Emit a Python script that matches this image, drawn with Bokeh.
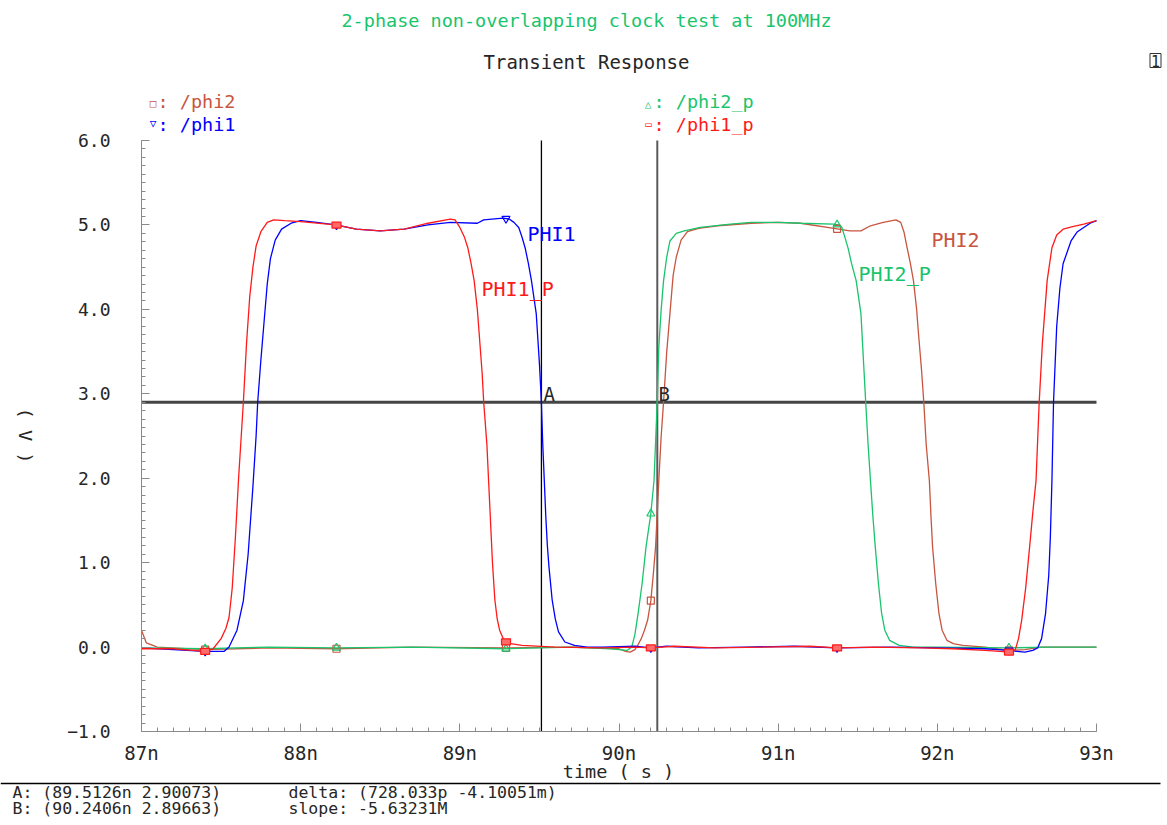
import math
import numpy as np
from bokeh.plotting import figure
from bokeh.models import Range1d, FixedTicker, Label, ColumnDataSource
from bokeh.embed import file_html
from bokeh.resources import INLINE

# ---- waveforms: time in ns, voltage in V ----
phi1_t = [87.00, 87.20, 87.40, 87.48, 87.52, 87.55, 87.60, 87.64, 87.67, 87.70, 87.72, 87.73,
          87.75, 87.77, 87.79, 87.81, 87.84, 87.88, 87.94, 88.00, 88.10, 88.22, 88.35, 88.50,
          88.65, 88.80, 88.94, 89.11, 89.15, 89.27, 89.31, 89.34, 89.37, 89.39, 89.41, 89.43,
          89.45, 89.48, 89.50, 89.5126, 89.52, 89.53, 89.54, 89.55, 89.56, 89.58, 89.60, 89.62,
          89.66, 89.72, 89.80, 89.90, 90.10, 90.20, 90.30, 90.50, 90.80, 91.10, 91.37, 91.70,
          92.00, 92.30, 92.45, 92.50, 92.55, 92.60, 92.63, 92.655, 92.68, 92.70, 92.71, 92.72,
          92.73, 92.75, 92.77, 92.79, 92.84, 92.88, 92.92, 92.96, 93.00]
phi1_v = [-0.01, -0.03, -0.05, -0.05, -0.05, 0.00, 0.20, 0.55, 1.10, 1.90, 2.50, 2.90,
          3.40, 3.85, 4.30, 4.60, 4.82, 4.95, 5.02, 5.05, 5.03, 5.00, 4.95, 4.93,
          4.95, 5.00, 5.03, 5.02, 5.06, 5.08, 5.07, 5.03, 4.97, 4.86, 4.73, 4.55,
          4.34, 3.95, 3.36, 2.90, 2.45, 2.00, 1.55, 1.20, 0.95, 0.56, 0.33, 0.18,
          0.06, 0.02, 0.00, 0.00, 0.01, -0.01, 0.01, -0.01, 0.00, 0.01, -0.01, 0.00,
          -0.01, -0.02, -0.04, -0.05, -0.06, -0.04, -0.01, 0.10, 0.40, 0.85, 1.30, 1.97,
          2.90, 3.80, 4.25, 4.54, 4.81, 4.92, 4.97, 5.02, 5.05]

phi1p_t = [87.00, 87.20, 87.40, 87.45, 87.50, 87.53, 87.55, 87.57, 87.59, 87.61, 87.63, 87.64,
           87.66, 87.68, 87.70, 87.72, 87.75, 87.79, 87.83, 87.90, 88.00, 88.22, 88.35, 88.50,
           88.65, 88.80, 88.94, 88.97, 89.00, 89.03, 89.05, 89.07, 89.09, 89.11, 89.12, 89.14,
           89.15, 89.17, 89.19, 89.205, 89.22, 89.235, 89.25, 89.28, 89.32, 89.39, 89.60, 89.90,
           90.10, 90.20, 90.35, 90.60, 90.90, 91.20, 91.37, 91.60, 91.90, 92.10, 92.30, 92.46,
           92.49, 92.51, 92.53, 92.555, 92.58, 92.60, 92.62, 92.64, 92.66, 92.69, 92.72, 92.75,
           92.79, 92.85, 92.92, 93.00]
phi1p_v = [-0.02, -0.02, -0.05, -0.02, 0.10, 0.22, 0.35, 0.70, 1.30, 2.00, 2.60, 2.90,
           3.60, 4.15, 4.50, 4.75, 4.92, 5.03, 5.06, 5.05, 5.04, 5.00, 4.95, 4.93,
           4.95, 5.02, 5.07, 5.06, 4.97, 4.85, 4.73, 4.55, 4.34, 4.00, 3.75, 3.25,
           2.90, 2.40, 1.60, 1.00, 0.56, 0.33, 0.20, 0.07, 0.04, 0.02, 0.00, -0.01,
           0.00, -0.01, 0.01, -0.01, 0.00, 0.01, -0.01, 0.00, -0.01, -0.02, -0.04, -0.06,
           -0.03, 0.10, 0.32, 0.70, 1.19, 1.60, 1.97, 2.90, 3.60, 4.34, 4.73, 4.88,
           4.95, 4.98, 5.01, 5.05]

phi2_t = [87.00, 87.03, 87.10, 87.40, 87.80, 88.22, 88.70, 89.29, 89.70, 90.00, 90.04, 90.07,
          90.10, 90.12, 90.14, 90.16, 90.18, 90.20, 90.215, 90.23, 90.25, 90.265, 90.28, 90.30,
          90.32, 90.34, 90.36, 90.39, 90.43, 90.50, 90.62, 90.83, 91.00, 91.14, 91.35, 91.45,
          91.52, 91.58, 91.66, 91.74, 91.77, 91.79, 91.81, 91.83, 91.85, 91.87, 91.88, 91.90,
          91.915, 91.93, 91.95, 91.96, 91.97, 91.99, 92.01, 92.03, 92.06, 92.10, 92.16, 92.30,
          92.45, 92.55, 92.65, 92.80, 93.00]
phi2_v = [0.20, 0.05, 0.00, -0.03, -0.01, -0.02, 0.00, -0.01, 0.00, -0.02, -0.05, -0.06,
          -0.03, 0.03, 0.10, 0.20, 0.32, 0.55, 0.85, 1.19, 1.97, 2.50, 2.90, 3.50,
          3.95, 4.40, 4.62, 4.82, 4.92, 4.96, 4.99, 5.02, 5.03, 5.02, 4.96, 4.93,
          4.93, 4.99, 5.03, 5.06, 5.03, 4.92, 4.73, 4.55, 4.34, 4.00, 3.75, 3.30,
          2.90, 2.40, 1.97, 1.55, 1.19, 0.75, 0.40, 0.20, 0.08, 0.04, 0.02, 0.00,
          -0.04, -0.03, 0.00, 0.00, 0.00]

phi2p_t = [87.00, 87.40, 87.80, 88.22, 88.70, 89.29, 89.70, 89.95, 90.05, 90.08, 90.10, 90.12,
           90.145, 90.17, 90.20, 90.22, 90.24, 90.25, 90.265, 90.28, 90.30, 90.32, 90.36, 90.41,
           90.51, 90.70, 90.83, 91.00, 91.14, 91.35, 91.38, 91.40, 91.42, 91.44, 91.46, 91.49,
           91.52, 91.53, 91.55, 91.565, 91.58, 91.595, 91.61, 91.63, 91.65, 91.67, 91.70, 91.76,
           91.85, 92.00, 92.45, 92.70, 93.00]
phi2p_v = [-0.01, -0.02, 0.00, -0.01, 0.00, -0.02, 0.00, -0.02, -0.04, 0.00, 0.15, 0.40,
           0.75, 1.19, 1.58, 1.97, 2.90, 3.55, 4.00, 4.34, 4.62, 4.81, 4.90, 4.93,
           4.97, 5.01, 5.03, 5.03, 5.02, 5.01, 5.00, 4.97, 4.85, 4.72, 4.55, 4.34,
           3.95, 3.60, 2.90, 2.40, 1.97, 1.55, 1.19, 0.75, 0.40, 0.20, 0.08, 0.02,
           0.00, 0.00, -0.01, 0.00, 0.00]

# sample instants where the viewer puts its trace symbols
marker_t = [87.40, 88.225, 89.29, 90.20, 91.37, 92.45]

# cursors and threshold
cursor_a = 89.5126
cursor_b = 90.2406
threshold = 2.9

xticks = [87, 88, 89, 90, 91, 92, 93]
xtick_labels = ["87n", "88n", "89n", "90n", "91n", "92n", "93n"]
yticks = [-1, 0, 1, 2, 3, 4, 5, 6]
ytick_labels = ["\u22121.0", "0.0", "1.0", "2.0", "3.0", "4.0", "5.0", "6.0"]

BROWN = "#c8553f"
BLUE = "#0000ff"
GREEN = "#19c46c"
RED = "#ff1a1a"
INK = "#262626"
AXIS = "#8a8a8a"
FONT = "DejaVu Sans Mono"

# canvas and plotting-box geometry in pixels
W, H = 1167, 825
LEFT, RIGHT, TOP, BOTTOM = 141, 1096, 140, 731
RULE_Y, RULE_END = 783, 1160
T0, T1, V0, V1 = 87.0, 93.0, -1.0, 6.0
px_ns = (RIGHT - LEFT) / (T1 - T0)
px_v = (BOTTOM - TOP) / (V1 - V0)
x_lo = T0 - LEFT / px_ns
y_hi = V1 + TOP / px_v

# the frame covers the whole canvas; axes sit at fixed data locations
p = figure(width=W, height=H, output_backend="svg", toolbar_location=None,
           x_range=Range1d(x_lo, T1 + (W - RIGHT) / px_ns),
           y_range=Range1d(V0 - (H - BOTTOM) / px_v, y_hi),
           min_border=0)
p.outline_line_color = None
p.grid.visible = False
p.background_fill_color = "white"
p.border_fill_color = "white"

xa, ya = p.xaxis[0], p.yaxis[0]
xa.fixed_location = V0
xa.bounds = (T0, T1)
ya.fixed_location = T0
ya.bounds = (V0, V1)

xa.ticker = FixedTicker(ticks=xticks, minor_ticks=[T0 + i * 0.1 for i in range(61)])
xa.major_label_overrides = dict(zip(xticks, xtick_labels))
ya.ticker = FixedTicker(ticks=yticks, minor_ticks=[V0 + i * 0.1 for i in range(71)])
ya.major_label_overrides = dict(zip(yticks, ytick_labels))

for ax in (xa, ya):
    ax.axis_line_color = AXIS
    ax.axis_line_width = 1
    ax.major_tick_line_color = AXIS
    ax.minor_tick_line_color = AXIS
    ax.major_tick_in = 8
    ax.major_tick_out = 0
    ax.minor_tick_in = 4
    ax.minor_tick_out = 0
    ax.major_label_text_font = FONT
    ax.major_label_text_color = INK
xa.major_label_text_font_size = "19px"
xa.major_label_standoff = 10
ya.major_label_text_font_size = "18px"
ya.major_label_standoff = 31

# threshold and cursors
p.segment(x0=[T0], y0=[threshold], x1=[T1], y1=[threshold], line_color="#454545", line_width=3)
p.segment(x0=[cursor_a], y0=[V0], x1=[cursor_a], y1=[V1], line_color="#000000", line_width=1.3)
p.segment(x0=[cursor_b], y0=[V0], x1=[cursor_b], y1=[V1], line_color="#5a5a5a", line_width=2)

traces = [
    ("phi2", phi2_t, phi2_v, BROWN),
    ("phi2_p", phi2p_t, phi2p_v, GREEN),
    ("phi1", phi1_t, phi1_v, BLUE),
    ("phi1_p", phi1p_t, phi1p_v, RED),
]
for name, t, v, col in traces:
    p.line(t, v, line_color=col, line_width=1.3)

for name, t, v, col in traces:
    mv = np.interp(marker_t, t, v)
    src = ColumnDataSource(dict(x=marker_t, y=mv))
    if name == "phi2":
        p.scatter("x", "y", source=src, marker="square", size=7,
                  fill_color=None, line_color=col, line_width=1.2)
    elif name == "phi2_p":
        p.scatter("x", "y", source=src, marker="triangle", size=8,
                  fill_color=None, line_color=col, line_width=1.2)
    elif name == "phi1":
        p.scatter("x", "y", source=src, marker="inverted_triangle", size=8,
                  fill_color=None, line_color=col, line_width=1.2)
    else:
        p.rect("x", "y", source=src, width=9, height=6, width_units="screen",
               height_units="screen", fill_color="#ff6a6a", line_color=col, line_width=1.2)


def put(text, cx, cy, color, size, align="left", angle=0.0, **kw):
    """Place a text at canvas pixel (cx, cy), measured from the top-left corner."""
    p.add_layout(Label(x=cx, y=H - cy, x_units="screen", y_units="screen",
                       text=text, text_color=color, text_font=FONT,
                       text_font_size=f"{size}px", text_align=align,
                       text_baseline="middle", angle=angle, **kw))


put("2-phase non-overlapping clock test at 100MHz", 586, 20, GREEN, 18.5, "center")
put("Transient Response", 586, 61, INK, 19, "center")

# legend
put("\u25a1", 152.5, 103, BROWN, 11, "center")
put(": /phi2", 157, 101, BROWN, 18.5)
put("\u25bd", 152.5, 123, BLUE, 11, "center")
put(": /phi1", 157, 124, BLUE, 18.5)
put("\u25b3", 647.5, 104, GREEN, 11, "center")
put(": /phi2_p", 653, 101, GREEN, 18.5)
put("\u25ad", 648, 124, RED, 11, "center")
put(": /phi1_p", 653, 124, RED, 18.5)

# trace names
put("PHI1", 527, 233, BLUE, 20)
put("PHI1_P", 481, 288, RED, 20)
put("PHI2", 931, 239, BROWN, 20)
put("PHI2_P", 858, 273, GREEN, 20)

# cursor tags
put("A", 543, 393, INK, 19)
put("B", 658, 393, INK, 19)

# axis titles
put("time ( s )", 618, 771, INK, 18.5, "center")
put("( V )", 25, 435, INK, 18.5, "center", angle=-math.pi / 2)

# window tag at the top right
put("1", 1155, 60, INK, 15, "center", border_line_color="#333333",
    border_line_width=1, background_fill_color="white", padding=1)

# cursor read-out strip under a rule
rule_v = y_hi - RULE_Y / px_v
p.segment(x0=[x_lo], y0=[rule_v], x1=[x_lo + RULE_END / px_ns], y1=[rule_v],
          line_color="#000000", line_width=1.5)
readout = [
    ("A: (89.5126n 2.90073)", 12, 792),
    ("B: (90.2406n 2.89663)", 12, 808),
    ("delta: (728.033p -4.10051m)", 288, 792),
    ("slope: -5.63231M", 288, 808),
]
for txt, x0, y0 in readout:
    put(txt, x0, y0, INK, 16.5)

open("out.html", "w").write(file_html(p, INLINE))
